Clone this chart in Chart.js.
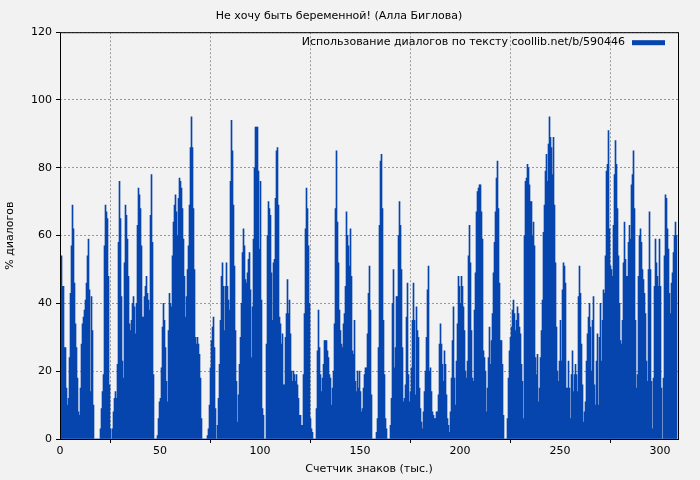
<!DOCTYPE html>
<html lang="ru">
<head>
    <meta charset="UTF-8">
    <title>Не хочу быть беременной!</title>
    <script src="https://cdn.jsdelivr.net/npm/chart.js@4.4.0/dist/chart.umd.min.js"></script>
    <style>
        body { margin: 0; background: #f2f2f2; }
        #wrap { width: 700px; height: 480px; }
    </style>
</head>
<body>
<div id="wrap"><canvas id="myChart" width="700" height="480"></canvas></div>
<script>
    // % диалогов, по полтысячи знаков на столбик
    var seg0 = [43,54,45,45,27,27,15,10,12,24, 43,57,69,62,46,34,27,18,8,7, 15,28,34,36,38,41,46,54,59,44,
        14,42,32,10,0,0,0,0,0,0, 3,9,14,19,57,69,67,65,48,16, 3,0,3,8,12,14,12,22,58,76,
        65,42,23,18,52,69,66,59,48,34, 32,35,40,42,39,31,40,63,74,72, 68,57,36,36,42,45,48,43,41,38,
        66,78,58,19,0,0,0,1,6,11];
    var seg1 = [12,21,33,40,35,27,17,11,32,43, 40,39,54,64,69,72,67,60,71,77, 76,74,68,59,48,36,42,50,57,69,
        86,95,86,68,50,30,28,30,28,25, 18,6,0,0,0,0,0,1,3,10, 21,29,33,36,27,9,0,4,12,22,
        35,48,52,45,32,45,52,45,41,38, 76,94,85,69,51,32,17,5,13,22, 30,40,55,62,57,47,46,49,53,55,
        44,24,39,59,80,92,92,92,79,56];
    var seg2 = [76,41,9,7,0,0,28,60,70,68, 66,49,35,52,53,71,85,86,69,36, 34,28,31,16,16,30,37,47,37,41,
        31,20,17,20,19,17,19,16,12,7, 7,4,4,19,37,62,74,68,57,40, 6,3,2,0,0,0,9,26,38,27,
        19,14,18,22,29,29,29,26,24,19, 18,10,15,20,34,68,85,64,52,38, 32,28,27,34,37,45,67,60,57,51,
        62,48,26,25,35,17,14,20,15,20];
    var seg3 = [14,8,9,15,19,21,21,31,43,51, 38,13,0,0,0,0,2,6,27,63, 82,84,68,35,19,6,3,0,0,0,
        4,12,40,50,21,27,42,42,60,70, 63,50,27,11,12,16,36,46,19,11, 14,21,35,46,35,13,39,32,30,15,
        9,5,3,8,14,20,30,44,51,20, 21,14,8,7,6,6,8,8,13,28, 34,28,22,17,26,22,13,6,4,2,
        8,18,29,39,18,10,23,34,48,45];
    var seg4 = [40,48,45,39,32,20,18,23,54,63, 52,32,18,17,38,49,67,73,74,75, 75,67,59,26,24,20,8,15,24,33,
        22,29,37,49,58,67,77,82,68,46, 29,29,22,7,0,0,0,6,18,26, 30,33,38,41,37,32,35,39,37,33,
        31,22,17,6,60,76,77,81,80,75, 70,70,60,64,57,24,19,25,11,15, 24,32,41,61,69,79,84,76,87,95,
        89,86,78,89,69,52,33,20,17,23];
    var seg5 = [35,23,44,52,51,46,15,15,23,15, 6,19,26,14,19,22,19,14,42,51, 43,28,16,5,8,11,23,31,36,40,
        33,20,35,42,16,10,23,31,10,30, 40,23,35,44,43,54,79,81,91,62, 51,50,48,63,78,88,81,68,54,40,
        29,28,35,52,64,53,48,48,58,63, 59,75,78,85,68,35,15,19,48,60, 62,58,50,47,43,37,23,17,50,67,
        50,17,3,18,45,59,52,48,45,59, 45,15,0,18,54,72,71,62,56,43, 37,46,49,55,60,64,60];
    var step = 0.5; // тыс. знаков на столбик
    var yTicks = [0, 20, 40, 60, 80, 100, 120];
    var xTicks = [0, 50, 100, 150, 200, 250, 300];

    var values = seg0.concat(seg1, seg2, seg3, seg4, seg5);
    var points = values.map(function (v, i) { return {x: i * step + step / 2, y: v}; });

    var blue = '#0645ad';
    var font = {family: 'DejaVu Sans', size: 11};

    // рамка и легенда внутри графика
    var framePlugin = {
        id: 'frame',
        afterDraw: function (chart) {
            var a = chart.chartArea, ctx = chart.ctx;
            ctx.save();
            ctx.strokeStyle = '#000';
            ctx.lineWidth = 1;
            ctx.strokeRect(a.left + 0.5, a.top + 0.5, a.right - a.left, a.bottom - a.top);
            ctx.font = '11px "DejaVu Sans"';
            ctx.fillStyle = '#000';
            ctx.textAlign = 'right';
            ctx.textBaseline = 'middle';
            ctx.fillText('Использование диалогов по тексту coollib.net/b/590446', a.right - 53, a.top + 10);
            ctx.fillStyle = blue;
            ctx.fillRect(a.right - 46, a.top + 8, 33, 5);
            ctx.restore();
        }
    };

    new Chart(document.getElementById('myChart').getContext('2d'), {
        type: 'bar',
        data: {
            datasets: [{
                label: 'Использование диалогов по тексту coollib.net/b/590446',
                data: points,
                backgroundColor: blue,
                borderWidth: 0,
                barPercentage: 1,
                categoryPercentage: 1
            }]
        },
        options: {
            responsive: false,
            animation: false,
            layout: {padding: {right: 22, top: 0, left: 0, bottom: 0}},
            plugins: {
                legend: {display: false},
                tooltip: {enabled: false},
                title: {
                    display: true,
                    text: 'Не хочу быть беременной! (Алла Биглова)',
                    color: '#000',
                    font: {family: 'DejaVu Sans', size: 11, weight: 'normal'},
                    padding: {top: 10, bottom: 9}
                }
            },
            scales: {
                x: {
                    type: 'linear',
                    min: 0,
                    max: 309,
                    offset: false,
                    afterBuildTicks: function (s) { s.ticks = xTicks.map(function (v) { return {value: v}; }); },
                    afterFit: function (s) { s.height = 41; },
                    ticks: {color: '#000', font: font, padding: 2, maxRotation: 0},
                    grid: {color: '#999', drawTicks: true, tickLength: 4, tickColor: '#000'},
                    border: {display: false, dash: [2, 2]},
                    title: {display: true, text: 'Счетчик знаков (тыс.)', color: '#000', font: font, padding: {top: 2}}
                },
                y: {
                    min: 0,
                    max: 120,
                    afterBuildTicks: function (s) { s.ticks = yTicks.map(function (v) { return {value: v}; }); },
                    afterFit: function (s) { s.width = 60; },
                    ticks: {color: '#000', font: font, padding: 4},
                    grid: {color: '#999', tickLength: 4, tickColor: '#000'},
                    border: {display: false, dash: [2, 2]},
                    title: {display: true, text: '% диалогов', color: '#000', font: font, padding: {bottom: 10}}
                }
            }
        },
        plugins: [framePlugin]
    });
</script>
</body>
</html>
